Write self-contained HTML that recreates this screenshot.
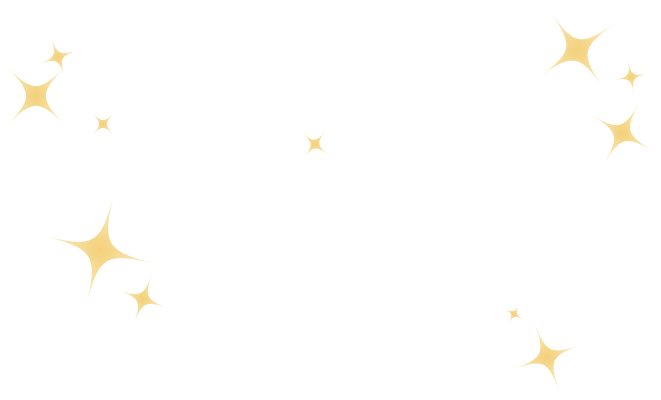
<!DOCTYPE html>
<html><head><meta charset="utf-8"><style>
html,body{margin:0;padding:0;background:#fff;width:661px;height:400px;overflow:hidden}
</style></head><body>
<svg width="661" height="400" viewBox="0 0 661 400" xmlns="http://www.w3.org/2000/svg">
<defs>
<radialGradient id="g" cx="0.5" cy="0.5" r="0.5">
<stop offset="0" stop-color="#f3d07a"/>
<stop offset="0.25" stop-color="#f6da92"/>
<stop offset="0.7" stop-color="#f9e5b2" stop-opacity="0.85"/>
<stop offset="1" stop-color="#fdf3dc" stop-opacity="0.4"/>
</radialGradient>
<path id="s" fill="url(#g)" d="M0,-1 C0,-0.04 0.04,0 1,0 C0.04,0 0,0.04 0,1 C0,0.04 -0.04,0 -1,0 C-0.04,0 0,-0.04 0,-1Z"/>
</defs>
<use href="#s" transform="translate(577,50) rotate(-35) scale(56)"/>
<use href="#s" transform="translate(631,77) rotate(-10) scale(22)"/>
<use href="#s" transform="translate(622,133) rotate(30) scale(44)"/>
<use href="#s" transform="translate(36,96) rotate(45) scale(50)"/>
<use href="#s" transform="translate(58,57) rotate(-20) scale(26)"/>
<use href="#s" transform="translate(103,124) rotate(45) scale(20)"/>
<use href="#s" transform="translate(315,144) rotate(40) scale(22)"/>
<use href="#s" transform="translate(100,250) rotate(14) scale(68)"/>
<use href="#s" transform="translate(143,299) rotate(20) scale(33)"/>
<use href="#s" transform="translate(514,314) rotate(30) scale(15)"/>
<use href="#s" transform="translate(547,357) rotate(-20) scale(44)"/>
</svg>
</body></html>
